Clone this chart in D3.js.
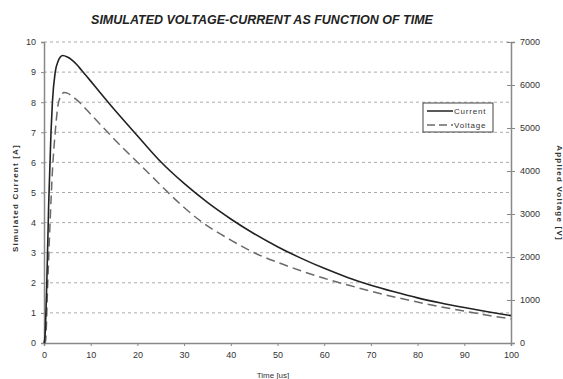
<!DOCTYPE html>
<html>
<head>
<meta charset="utf-8">
<script src="https://d3js.org/d3.v7.min.js"></script>
<style>
  body { margin: 0; background: #fff; font-family: "Liberation Sans", Arial, sans-serif; }
  .tick text { fill: #333; font-size: 9px; }
  .grid line { stroke: #aaa; stroke-dasharray: 3,3; }
</style>
</head>
<body>
<script>
// current [A] vs time [us]
var timeCurrent = [0, 0.2, 0.6, 1.0, 1.5, 1.8, 2.4, 3.0, 3.5, 4.0, 5.0, 6.0, 7.0, 8.0, 10, 12, 14, 16.5, 19, 22, 25, 30, 35, 40, 45, 50, 55, 60, 65, 70, 75, 80, 85, 90, 95, 100];
var current = [0, 0.2, 2.0, 4.6, 7.0, 8.0, 9.0, 9.35, 9.5, 9.55, 9.5, 9.4, 9.25, 9.07, 8.7, 8.32, 7.95, 7.5, 7.06, 6.53, 6.02, 5.3, 4.67, 4.12, 3.63, 3.2, 2.82, 2.48, 2.18, 1.92, 1.7, 1.5, 1.33, 1.18, 1.04, 0.91];
// voltage [V] vs time [us]
var timeVoltage = [0, 0.3, 0.8, 1.3, 1.8, 2.4, 3.0, 3.6, 4.3, 5, 6, 7.7, 10, 12, 15, 18.4, 20.6, 23, 25.9, 30, 33.8, 40, 45, 50, 55, 60, 65, 70, 75, 80, 85, 90, 95, 100];
var voltage = [0, 0, 1400, 2800, 3990, 4900, 5530, 5740, 5824, 5810, 5740, 5586, 5320, 5089, 4746, 4375, 4144, 3885, 3570, 3150, 2814, 2394, 2100, 1876, 1680, 1505, 1351, 1204, 1071, 952, 840, 742, 644, 560];

var xTicks = [0, 10, 20, 30, 40, 50, 60, 70, 80, 90, 100];
var leftTicks = [0, 1, 2, 3, 4, 5, 6, 7, 8, 9, 10];
var rightTicks = [0, 1000, 2000, 3000, 4000, 5000, 6000, 7000];

var width = 563, height = 379;
var margin = {top: 42, right: 52, bottom: 36, left: 44};

var svg = d3.select("body").append("svg")
    .attr("width", width)
    .attr("height", height);

var x = d3.scaleLinear().domain([0, 100]).range([margin.left, width - margin.right]);
var yL = d3.scaleLinear().domain([0, 10]).range([height - margin.bottom, margin.top]);
var yR = d3.scaleLinear().domain([0, 7000]).range([height - margin.bottom, margin.top]);

// gridlines
svg.append("g").attr("class", "grid")
  .selectAll("line")
  .data(leftTicks.slice(1))
  .enter().append("line")
  .attr("x1", x(0)).attr("x2", x(100))
  .attr("y1", function(d) { return yL(d); })
  .attr("y2", function(d) { return yL(d); });

// axes
var gx = svg.append("g")
    .attr("transform", "translate(0," + yL(0) + ")")
    .call(d3.axisBottom(x).tickValues(xTicks).tickSize(3).tickPadding(6));
var gl = svg.append("g")
    .attr("transform", "translate(" + x(0) + ",0)")
    .call(d3.axisLeft(yL).tickValues(leftTicks).tickSize(3).tickPadding(5));
var gr = svg.append("g")
    .attr("transform", "translate(" + x(100) + ",0)")
    .call(d3.axisRight(yR).tickValues(rightTicks).tickFormat(d3.format("d")).tickSize(4).tickPadding(5));
gr.selectAll(".tick line").attr("x1", -4);

[gx, gl, gr].forEach(function(g) {
  g.select(".domain").attr("stroke", "#888").attr("stroke-width", 1.5);
  g.selectAll(".tick line").attr("stroke", "#888");
});

// curves
var curData = timeCurrent.map(function(t, i) { return [t, current[i]]; });
var volData = timeVoltage.map(function(t, i) { return [t, voltage[i]]; });

svg.append("path")
    .datum(volData)
    .attr("fill", "none")
    .attr("stroke", "#6a6a6a")
    .attr("stroke-width", 1.5)
    .attr("stroke-dasharray", "9,5")
    .attr("d", d3.line()
      .x(function(d) { return x(d[0]); })
      .y(function(d) { return yR(d[1]); })
      .curve(d3.curveMonotoneX));

svg.append("path")
    .datum(curData)
    .attr("fill", "none")
    .attr("stroke", "#222")
    .attr("stroke-width", 1.6)
    .attr("d", d3.line()
      .x(function(d) { return x(d[0]); })
      .y(function(d) { return yL(d[1]); })
      .curve(d3.curveMonotoneX));

// title
svg.append("text")
    .attr("x", 262).attr("y", 24)
    .attr("text-anchor", "middle")
    .style("font-size", "12.5px")
    .style("font-weight", "bold")
    .style("font-style", "italic")
    .style("fill", "#222")
    .text("SIMULATED VOLTAGE-CURRENT AS FUNCTION OF TIME");

// axis titles
svg.append("text")
    .attr("x", 273).attr("y", 378)
    .attr("text-anchor", "middle")
    .style("font-size", "8px")
    .style("fill", "#333")
    .text("Time [us]");

svg.append("text")
    .attr("transform", "translate(18,198) rotate(-90)")
    .attr("text-anchor", "middle")
    .style("font-size", "8px")
    .style("font-weight", "bold")
    .style("letter-spacing", "1.2px")
    .style("fill", "#333")
    .text("Simulated Current [A]");

svg.append("text")
    .attr("transform", "translate(557,193) rotate(90)")
    .attr("text-anchor", "middle")
    .style("font-size", "8px")
    .style("font-weight", "bold")
    .style("letter-spacing", "1.2px")
    .style("fill", "#333")
    .text("Applied Voltage [V]");

// legend
var legend = svg.append("g").attr("transform", "translate(423,103)");
legend.append("rect")
    .attr("width", 70).attr("height", 29)
    .attr("fill", "#fff").attr("stroke", "#444").attr("stroke-width", 1);
var items = [
  {name: "Current", stroke: "#222", dash: null},
  {name: "Voltage", stroke: "#6a6a6a", dash: "8,4"}
];
items.forEach(function(it, i) {
  var y = 8 + i * 14;
  legend.append("line")
      .attr("x1", 4).attr("x2", 30).attr("y1", y).attr("y2", y)
      .attr("stroke", it.stroke).attr("stroke-width", 1.5)
      .attr("stroke-dasharray", it.dash);
  legend.append("text")
      .attr("x", 31).attr("y", y + 3)
      .style("font-size", "8px")
      .style("letter-spacing", "0.8px")
      .style("fill", "#333")
      .text(it.name);
});
</script>
</body>
</html>
